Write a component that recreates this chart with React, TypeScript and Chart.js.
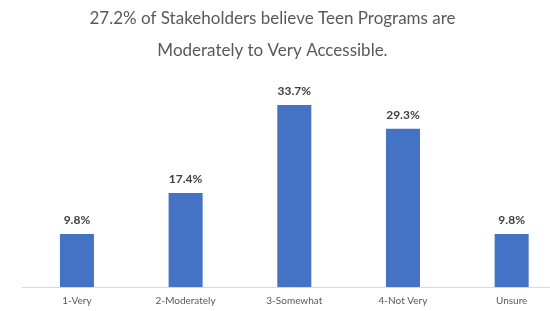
import React, { useEffect, useRef } from "react";
import { Chart, registerables } from "chart.js";

Chart.register(...registerables);

const titleLines = [
  "27.2% of Stakeholders believe Teen Programs are",
  "Moderately to Very Accessible.",
];
const categories = ["1-Very", "2-Moderately", "3-Somewhat", "4-Not Very", "Unsure"];
const values = [9.8, 17.4, 33.7, 29.3, 9.8];
const valueLabels = ["9.8%", "17.4%", "33.7%", "29.3%", "9.8%"];

const FONT = "Lato, 'Open Sans', sans-serif";

const overlayPlugin = {
  id: "overlay",
  afterDatasetsDraw(chart: any) {
    const ctx = chart.ctx;
    ctx.save();
    // data labels
    const meta = chart.getDatasetMeta(0);
    ctx.font = `bold 12px ${FONT}`;
    ctx.fillStyle = "#404040";
    ctx.textAlign = "center";
    ctx.textBaseline = "alphabetic";
    meta.data.forEach((bar: any, i: number) => {
      ctx.fillText(valueLabels[i], bar.x, bar.y - 10);
    });
    // title
    ctx.font = `17px ${FONT}`;
    ctx.fillStyle = "#595959";
    ctx.textBaseline = "middle";
    ctx.fillText(titleLines[0], 272.5, 19);
    ctx.fillText(titleLines[1], 272.5, 51);
    ctx.restore();
  },
};

export default function App() {
  const ref = useRef<HTMLCanvasElement>(null);
  useEffect(() => {
    if (!ref.current) return;
    const chart = new Chart(ref.current, {
      type: "bar",
      data: {
        labels: categories,
        datasets: [
          {
            data: values,
            backgroundColor: "#4472C4",
            categoryPercentage: 1,
            barPercentage: 0.313,
          },
        ],
      },
      options: {
        animation: false,
        responsive: false,
        maintainAspectRatio: false,
        layout: { padding: { left: 22.6, right: 4, top: 71, bottom: 0 } },
        plugins: {
          legend: { display: false },
          title: { display: false },
          tooltip: { enabled: false },
        },
        scales: {
          x: {
            grid: { display: false, drawTicks: false },
            border: { display: true, color: "#d9d9d9", width: 1 },
            ticks: {
              color: "#595959",
              font: { family: FONT, size: 10 },
              padding: 8,
            },
            afterFit: (axis: any) => {
              axis.height = 24;
            },
          },
          y: {
            display: false,
            min: 0,
            max: 40,
          },
        },
      },
      plugins: [overlayPlugin],
    });
    return () => chart.destroy();
  }, []);
  return (
    <div
      style={{
        position: "fixed",
        left: 0,
        top: 0,
        width: 550,
        height: 311,
        overflow: "hidden",
        background: "#fff",
      }}
    >
      <canvas ref={ref} width={570} height={311} style={{ display: "block" }} />
    </div>
  );
}
